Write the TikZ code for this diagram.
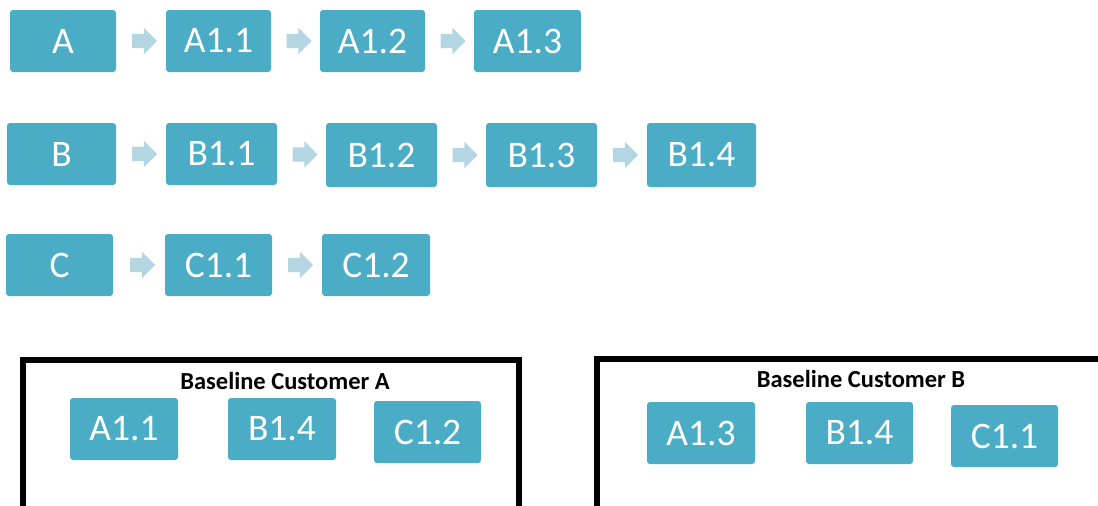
\documentclass[tikz,border=0pt]{standalone}
\usepackage{fontspec}
\setmainfont{Carlito}
\usetikzlibrary{shapes.arrows}
\definecolor{tile}{HTML}{4BACC6}
\definecolor{flow}{HTML}{B4D6E2}
\tikzset{
  tile/.style={fill=tile, rounded corners=3pt, text=white, inner sep=0pt,
    font=\fontsize{37.5}{42}\selectfont},
  flowarrow/.style={single arrow, fill=flow, draw=none, inner xsep=0pt, inner ysep=7pt,
    minimum height=25pt, single arrow head extend=6pt, single arrow head indent=0pt},
  frame/.style={draw=black, line width=6pt},
  frametitle/.style={font=\bfseries\fontsize{24.5}{28}\selectfont, text=black, inner sep=0pt}
}
\begin{document}
\begin{tikzpicture}[x=1pt, y=-1pt]
\useasboundingbox (0,0) rectangle (1098,506);
\clip (0,0) rectangle (1098,506);

% row A
\node[tile, minimum width=106pt, minimum height=62pt] (A)   at (63,41)    {A};
\node[tile, minimum width=105pt, minimum height=62pt] (A11) at (218.5,41) {A1.1};
\node[tile, minimum width=105pt, minimum height=62pt] (A12) at (372.5,41) {A1.2};
\node[tile, minimum width=107pt, minimum height=62pt] (A13) at (527.5,41) {A1.3};

% row B
\node[tile, minimum width=109pt, minimum height=62pt] (B)   at (61.5,154)  {B};
\node[tile, minimum width=111pt, minimum height=62pt] (B11) at (221.5,154) {B1.1};
\node[tile, minimum width=111pt, minimum height=64pt] (B12) at (381.5,155) {B1.2};
\node[tile, minimum width=111pt, minimum height=64pt] (B13) at (541.5,155) {B1.3};
\node[tile, minimum width=109pt, minimum height=64pt] (B14) at (701.5,155) {B1.4};

% row C
\node[tile, minimum width=107pt, minimum height=62pt] (C)   at (59.5,265)  {C};
\node[tile, minimum width=107pt, minimum height=62pt] (C11) at (218.5,265) {C1.1};
\node[tile, minimum width=108pt, minimum height=62pt] (C12) at (376,265)   {C1.2};

% block arrows between consecutive tiles
\foreach \a/\b in {A/A11, A11/A12, A12/A13, B/B11, B11/B12, B12/B13, B13/B14, C/C11, C11/C12}
  \path (\a.east) -- (\b.west) node[midway, flowarrow] {};

% baseline customer A
\draw[frame] (23,520) -- (23,360) -- (519,360) -- (519,520);
\node[frametitle] (TA) at (285,381) {Baseline Customer A};
\node[tile, minimum width=108pt, minimum height=62pt] (PA1) at (124,429)   {A1.1};
\node[tile, minimum width=108pt, minimum height=62pt] (PA2) at (282,429)   {B1.4};
\node[tile, minimum width=107pt, minimum height=62pt] (PA3) at (427.5,432) {C1.2};

% baseline customer B
\draw[frame] (597,520) -- (597,359) -- (1110,359);
\node[frametitle] (TB) at (861,379) {Baseline Customer B};
\node[tile, minimum width=108pt, minimum height=62pt] (PB1) at (701,433)    {A1.3};
\node[tile, minimum width=107pt, minimum height=62pt] (PB2) at (859.5,433)  {B1.4};
\node[tile, minimum width=107pt, minimum height=62pt] (PB3) at (1004.5,436) {C1.1};
\end{tikzpicture}
\end{document}
